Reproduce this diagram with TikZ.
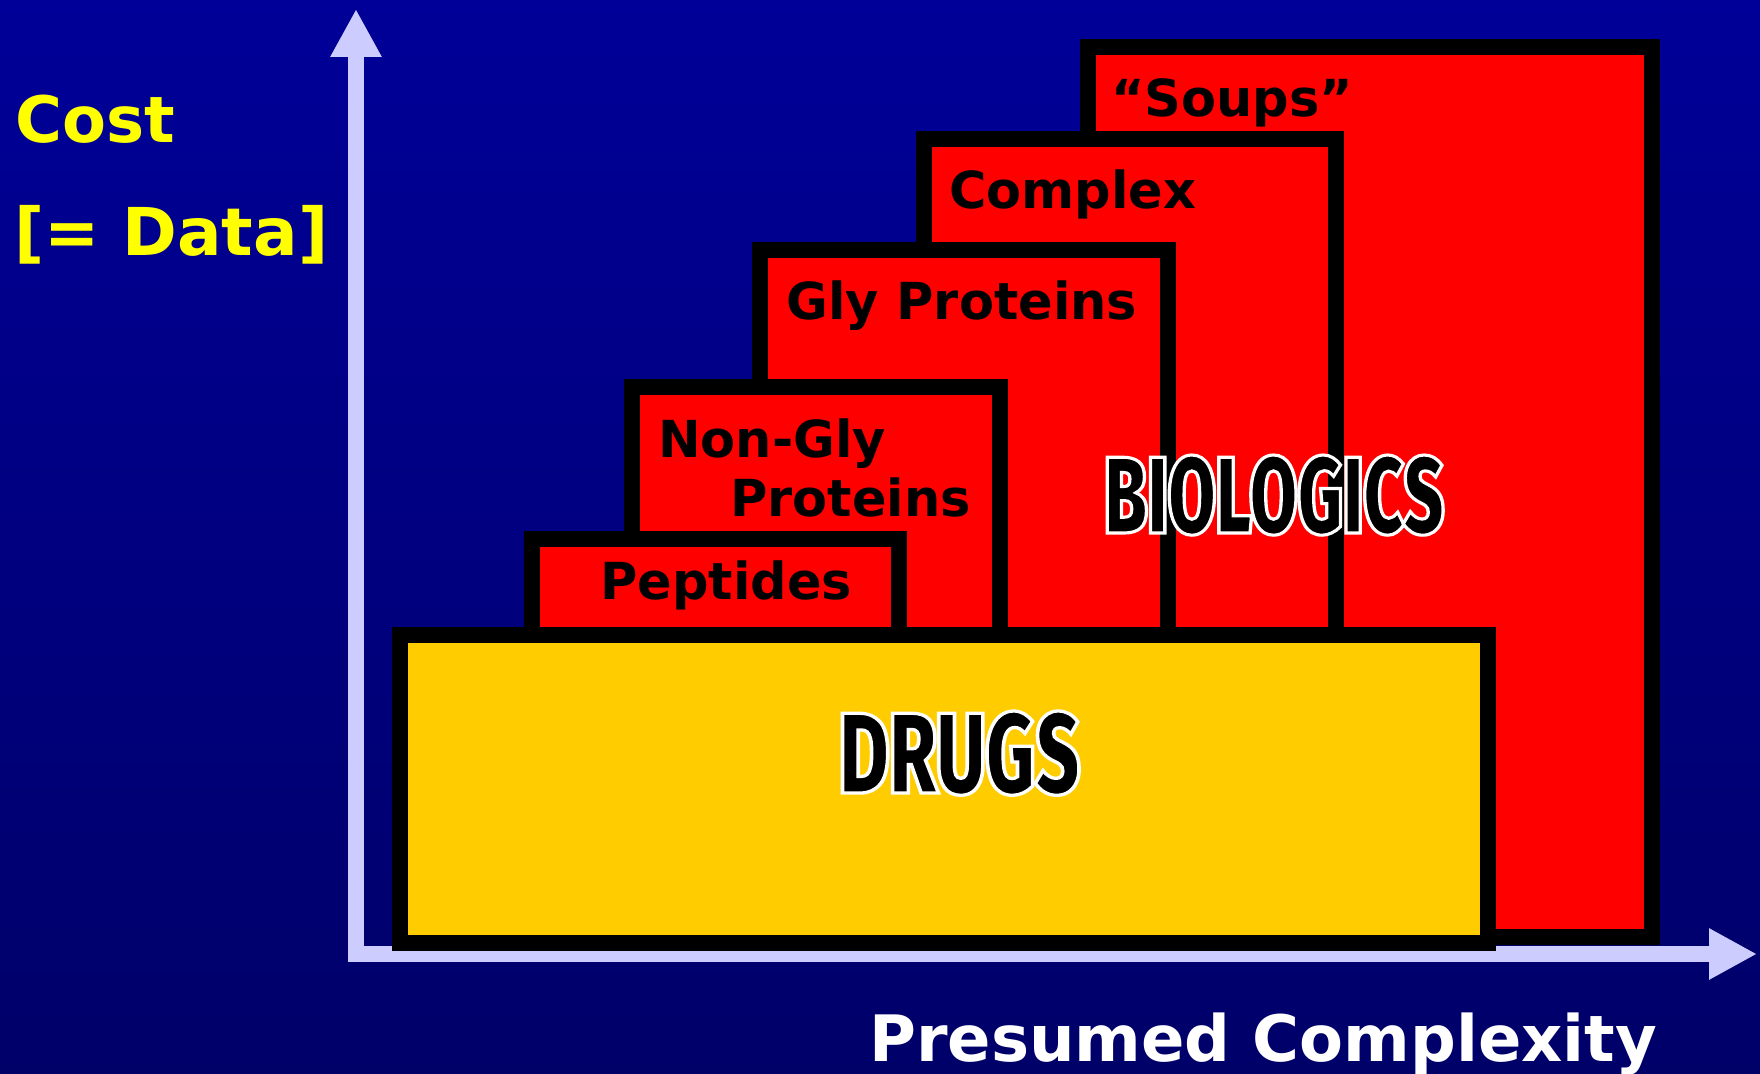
\documentclass[tikz,border=0pt]{standalone}
\usepackage{fontspec}
\setmainfont{DejaVu Sans}
\IfFontExistsTF{Fira Sans Heavy}
  {\newfontfamily\tallfont[FakeStretch=0.6]{Fira Sans Heavy}}
  {\IfFontExistsTF{Fira Sans Black}
    {\newfontfamily\tallfont[FakeStretch=0.6]{Fira Sans Black}}
    {\IfFontExistsTF{Lato Black}
      {\newfontfamily\tallfont[FakeStretch=0.6]{Lato Black}}
      {\newfontfamily\tallfont[FakeStretch=0.6]{Liberation Sans Bold}}}}
\usetikzlibrary{arrows.meta}

\definecolor{bgtop}{RGB}{0,0,152}
\definecolor{bgbot}{RGB}{0,0,105}
\definecolor{axiscol}{RGB}{204,204,255}
\definecolor{drugcol}{RGB}{255,204,0}
\definecolor{costcol}{RGB}{255,255,0}

% white rim round black letters
\newcommand{\rimtext}[1]{\special{pdf:literal q 2 Tr 1 1 1 RG 3 w}#1\special{pdf:literal Q}}

\begin{document}
\begin{tikzpicture}[x=1pt, y=-1pt,
  box/.style = {draw=black, line width=16pt, fill=red, line join=miter},
  axis/.style = {draw=axiscol, line width=16pt, line join=miter,
    {Triangle[length=48pt,width=48pt]}-{Triangle[length=48pt,width=48pt]}},
  every node/.style = {inner sep=0pt, anchor=base west},
  bigtext/.style = {font=\fontsize{64}{64}\selectfont\bfseries},
  tag/.style = {font=\fontsize{51}{51}\selectfont\bfseries, text=black},
  rimmed/.style = {text=black, font=\tallfont\fontsize{105}{105}\selectfont}
  ]
  % background
  \useasboundingbox (0,0) rectangle (1760,1073);
  \fill[top color=bgtop, bottom color=bgbot] (0,0) rectangle (1760,1073);

  % axes
  \coordinate (ytip) at (356,9);
  \coordinate (xtip) at (1757,954);
  \draw[axis] (ytip) |- (xtip);

  % boxes, back to front
  \draw[box] (1088,47) rectangle (1652,937);
  \draw[box] (924,139) rectangle (1336,640);
  \draw[box] (760,250) rectangle (1168,640);
  \draw[box] (632,387) rectangle (1000,640);
  \draw[box] (532,539) rectangle (899,640);
  \draw[box, fill=drugcol] (400,635) rectangle (1488,943);

  % labels
  \node[bigtext, text=costcol] (cost) at (15,142) {Cost};
  \node[bigtext, text=costcol, font=\fontsize{66}{66}\selectfont\bfseries]
    (data) at (14,255) {[= Data]};
  \node[bigtext, text=white] (complexity) at (869,1061) {Presumed Complexity};

  \node[tag] (soups) at (1111,116) {“Soups”};
  \node[tag] (complex) at (949,208) {Complex};
  \node[tag] (gly) at (786,319) {Gly Proteins};
  \node[tag] (nongly) at (658,457) {Non-Gly};
  \node[tag] (proteins) at (730,516) {Proteins};
  \node[tag] (peptides) at (600,599) {Peptides};

  \node[rimmed] (biologics) at (1104,533)
    {\resizebox{340pt}{78pt}{\rimtext{BIOLOGICS}}};
  \node[rimmed] (drugs) at (839,793)
    {\resizebox{241pt}{82pt}{\rimtext{DRUGS}}};
\end{tikzpicture}
\end{document}
